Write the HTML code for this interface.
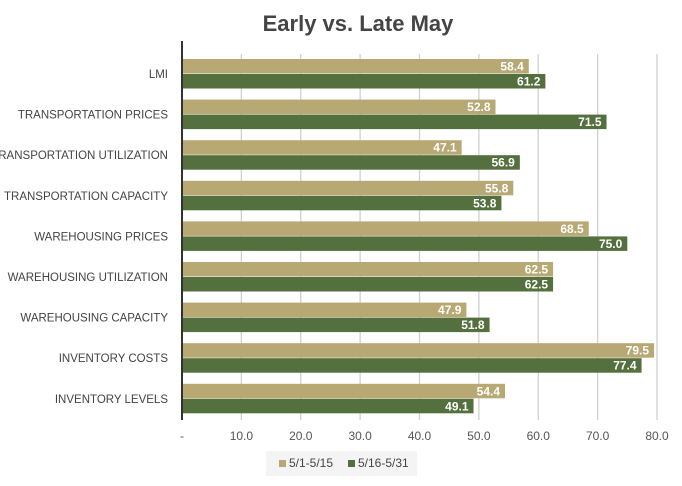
<!DOCTYPE html>
<html><head><meta charset="utf-8"><style>
body{margin:0;background:#fff;font-family:"Liberation Sans",sans-serif}
</style></head><body>
<svg width="682" height="481" xmlns="http://www.w3.org/2000/svg" id="chart" style="font-family:'Liberation Sans',sans-serif">
<text x="358" y="31" text-anchor="middle" font-size="22" font-weight="bold" fill="#444">Early vs. Late May</text>
<g id="grid"></g><g id="bars"></g><g id="labels"></g>
<g>
<rect x="266" y="451" width="151" height="25" fill="#f4f4f4"/>
<rect x="279" y="460" width="7" height="7" fill="#b8a974"/>
<text x="289" y="467" font-size="12" fill="#444">5/1-5/15</text>
<rect x="348" y="460" width="7" height="7" fill="#55703f"/>
<text x="358" y="467" font-size="12" fill="#444">5/16-5/31</text>
</g>
</svg>
<script>
const categories=["LMI","TRANSPORTATION PRICES","TRANSPORTATION UTILIZATION","TRANSPORTATION CAPACITY","WAREHOUSING PRICES","WAREHOUSING UTILIZATION","WAREHOUSING CAPACITY","INVENTORY COSTS","INVENTORY LEVELS"];
const early=[58.4,52.8,47.1,55.8,68.5,62.5,47.9,79.5,54.4];
const late=[61.2,71.5,56.9,53.8,75.0,62.5,51.8,77.4,49.1];
const ticks=[0,10,20,30,40,50,60,70,80];
const tickLabels=["-","10.0","20.0","30.0","40.0","50.0","60.0","70.0","80.0"];
const NS="http://www.w3.org/2000/svg";
const x0=182,x1=657,xmax=80;
const X=v=>x0+(x1-x0)*v/xmax;
const top0=59,step=40.6,bh=15;
const g=document.getElementById('grid'),b=document.getElementById('bars'),l=document.getElementById('labels');
function mk(tag,attrs,parent){const e=document.createElementNS(NS,tag);for(const k in attrs)e.setAttribute(k,attrs[k]);parent.appendChild(e);return e;}
ticks.forEach((t,i)=>{
 if(i>0){const ln=mk('line',{x1:X(t),x2:X(t),y1:54,y2:420,stroke:'#d0d0d0','stroke-width':1.3},g);
 
 }
 const tx=mk('text',{x:X(t),y:440,'text-anchor':'middle','font-size':12,fill:'#555'},g);
 tx.textContent=tickLabels[i];
 
 
});
categories.forEach((c,i)=>{
 const y=top0+i*step;
 const r1=mk('rect',{x:x0,y:y,width:X(early[i])-x0,height:bh-0.5,fill:'#b8a974'},b);
 
 
 const r2=mk('rect',{x:x0,y:y+bh,width:X(late[i])-x0,height:bh-0.5,fill:'#55703f'},b);
 
 
 const v1=mk('text',{x:X(early[i])-5,y:y+11.5,'text-anchor':'end','font-size':12,'font-weight':'bold',fill:'#fff'},l);
 v1.textContent=early[i].toFixed(1);
 
 
 const v2=mk('text',{x:X(late[i])-5,y:y+bh+11.5,'text-anchor':'end','font-size':12,'font-weight':'bold',fill:'#fff'},l);
 v2.textContent=late[i].toFixed(1);
 
 
 const cl=mk('text',{x:168,y:y+bh+4,'text-anchor':'end','font-size':11.5,fill:'#444'},l);
 cl.textContent=c;
 
 
});
const ax=mk('line',{x1:x0,x2:x0,y1:41,y2:420,stroke:'#333','stroke-width':2},b);


</script>
</body></html>
